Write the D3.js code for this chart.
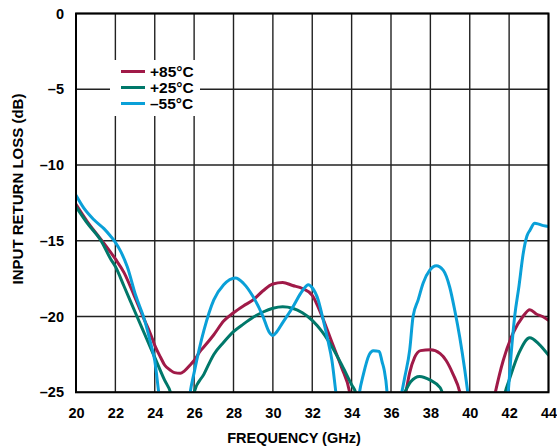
<!DOCTYPE html>
<html>
<head>
<meta charset="utf-8">
<script src="https://cdn.jsdelivr.net/npm/d3@7"></script>
<style>
  html, body { margin: 0; padding: 0; background: #fff; }
  svg { display: block; font-family: "Liberation Sans", Arial, sans-serif; font-weight: bold; }
</style>
</head>
<body>
<svg id="chart" width="557" height="446"></svg>
<script>
// ---- Data (frequency GHz, input return loss dB); null = gap (curve below -25 dB)
const xTicks = [20, 22, 24, 26, 28, 30, 32, 34, 36, 38, 40, 42, 44];
const yTicks = [0, -5, -10, -15, -20, -25];
const seriesNames = ["+85°C", "+25°C", "\u201355°C"];
const seriesColors = ["#A01A48", "#00786A", "#0AA0D8"];

const red85 = [[20,-12.6],[20.58,-13.75],[21.08,-14.6],[21.5,-15.3],[22,-16.2],[22.44,-17.1],[22.95,-18.6],
  [23.5,-20.3],[23.8,-21.2],[24,-21.9],[24.3,-22.7],[24.5,-23.2],[24.8,-23.55],[25,-23.7],[25.3,-23.75],
  [25.5,-23.6],[25.8,-23.2],[26,-22.9],[26.3,-22.3],[26.5,-22.0],[27,-21.2],[27.5,-20.3],[28,-19.75],
  [28.5,-19.3],[29,-18.9],[29.5,-18.3],[30,-17.85],[30.5,-17.75],[31,-17.95],[31.5,-18.15],[32,-18.6],
  [32.5,-20.0],[33,-21.7],[33.5,-23.4],[33.9,-25],[34,-25.8],
  null,
  [36.6,-25.8],[36.75,-25],[36.95,-23.7],[37.2,-22.7],[37.5,-22.25],[38,-22.2],[38.5,-22.45],[38.8,-22.9],
  [39.15,-23.8],[39.5,-25],[39.6,-25.6],
  null,
  [41.2,-25.6],[41.3,-25],[41.7,-22.9],[42.2,-21.1],[42.7,-20.0],[43.05,-19.55],[43.4,-19.85],[43.7,-20.0],[44,-20.25]];

const green25 = [[20,-12.75],[20.58,-13.85],[21.25,-14.95],[21.76,-16.2],[22,-16.7],[22.44,-18.0],[23,-19.7],
  [23.5,-21.2],[24,-22.7],[24.5,-24.2],[24.8,-25],[24.9,-25.5],
  null,
  [25.9,-25.6],[26,-25],[26.5,-23.8],[27,-22.5],[27.5,-21.7],[28,-21.0],[28.5,-20.5],[29,-20.05],[29.5,-19.7],
  [30,-19.45],[30.5,-19.35],[31,-19.45],[31.5,-19.75],[32,-20.25],[32.5,-21.0],[33,-22.0],[33.5,-23.2],
  [34,-24.5],[34.2,-25],[34.3,-25.5],
  null,
  [36.5,-25.6],[36.7,-25],[37,-24.3],[37.45,-23.95],[38,-24.2],[38.5,-24.7],[38.6,-25],[38.7,-25.4],
  null,
  [41.7,-25.6],[41.8,-25],[42,-24.2],[42.5,-22.4],[43.05,-21.4],[43.5,-21.8],[44,-22.55]];

const cyan55 = [[20,-12.0],[20.4,-12.85],[20.9,-13.6],[21.42,-14.2],[21.76,-14.7],[22,-15.1],[22.27,-15.7],
  [22.6,-16.7],[23.03,-18.6],[23.5,-20.3],[23.8,-21.8],[24,-22.9],[24.2,-25],[24.3,-26],
  null,
  [25.7,-26],[25.8,-25],[26,-23.7],[26.5,-20.9],[27,-18.9],[27.5,-17.9],[28.1,-17.45],[28.5,-17.8],
  [29,-18.7],[29.5,-20.0],[29.8,-21.0],[30,-21.25],[30.2,-21.0],[30.5,-20.4],[31,-19.4],[31.5,-18.3],
  [31.8,-17.9],[32,-18.1],[32.3,-18.9],[32.5,-19.9],[32.8,-21.6],[33,-22.9],[33.2,-25],[33.3,-26],
  null,
  [34.3,-26],[34.4,-25],[34.6,-23.8],[34.9,-22.5],[35.1,-22.25],[35.4,-22.3],[35.55,-23.0],[35.65,-23.5],
  [35.8,-25],[35.85,-26],
  null,
  [36.4,-26],[36.55,-25],[36.7,-24],[36.95,-22.2],[37.12,-20.0],[37.38,-18.9],[37.63,-17.8],[37.97,-16.94],
  [38.3,-16.65],[38.65,-16.94],[38.98,-18.05],[39.24,-19.6],[39.49,-21.35],[39.75,-23.55],[39.9,-25],[40,-26],
  null,
  [41.85,-26],[41.95,-25],[42.12,-22.2],[42.28,-20.0],[42.5,-18.0],[42.72,-15.8],[42.9,-14.7],[43.06,-14.3],
  [43.3,-13.85],[43.5,-13.9],[43.74,-14.0],[44,-14.05]];

const seriesData = [red85, green25, cyan55];

// ---- Layout
const svg = d3.select("#chart");
const pL = 76, pR = 548.5, pT = 13.5, pB = 392.3;
const x = d3.scaleLinear().domain([20, 44]).range([pL, pR]);
const y = d3.scaleLinear().domain([-25, 0]).range([pB, pT]);

svg.append("defs").append("clipPath").attr("id", "plotclip")
  .append("rect").attr("x", pL).attr("y", pT).attr("width", pR - pL).attr("height", pB - pT);

// Grid
const grid = svg.append("g");
grid.selectAll("line.v").data(xTicks).join("line").attr("class", "v")
  .attr("x1", d => x(d)).attr("x2", d => x(d)).attr("y1", pT).attr("y2", pB)
  .attr("stroke", "#222").attr("stroke-width", 1.4);
grid.selectAll("line.h").data(yTicks).join("line").attr("class", "h")
  .attr("y1", d => y(d)).attr("y2", d => y(d)).attr("x1", pL).attr("x2", pR)
  .attr("stroke", "#222").attr("stroke-width", 1.4);

// Legend background (covers grid)
svg.append("rect").attr("x", 110).attr("y", 60).attr("width", 90).attr("height", 56).attr("fill", "#fff");

// Curves
const line = d3.line()
  .defined(d => d != null)
  .x(d => x(d[0])).y(d => y(d[1]))
  .curve(d3.curveMonotoneX);
const curves = svg.append("g").attr("clip-path", "url(#plotclip)");
seriesData.forEach((s, i) => {
  curves.append("path").attr("d", line(s)).attr("fill", "none")
    .attr("stroke", seriesColors[i]).attr("stroke-width", 3)
    .attr("stroke-linejoin", "round").attr("stroke-linecap", "round");
});

// Frame
svg.append("rect").attr("x", pL).attr("y", pT).attr("width", pR - pL).attr("height", pB - pT)
  .attr("fill", "none").attr("stroke", "#000").attr("stroke-width", 2);

// Axes labels (ticks)
const xAxis = d3.axisBottom(x).tickValues(xTicks).tickSize(0).tickPadding(15).tickFormat(d3.format("d"));
const gx = svg.append("g").attr("transform", `translate(0,${pB})`).call(xAxis);
gx.select(".domain").remove();
gx.selectAll("text").attr("font-size", 14.5).attr("font-weight", "bold")
  .attr("font-family", "Liberation Sans, Arial, sans-serif").attr("fill", "#000");

const yAxis = d3.axisLeft(y).tickValues(yTicks).tickSize(0).tickPadding(12)
  .tickFormat(d => d === 0 ? "0" : "\u2013" + Math.abs(d));
const gy = svg.append("g").attr("transform", `translate(${pL},0)`).call(yAxis);
gy.select(".domain").remove();
gy.selectAll("text").attr("font-size", 14.5).attr("font-weight", "bold")
  .attr("font-family", "Liberation Sans, Arial, sans-serif").attr("fill", "#000");

// Axis titles
svg.append("text").attr("x", 294).attr("y", 443).attr("text-anchor", "middle")
  .attr("font-size", 14.5).text("FREQUENCY (GHz)");
svg.append("text").attr("transform", "translate(23,189) rotate(-90)").attr("text-anchor", "middle")
  .attr("font-size", 15).text("INPUT RETURN LOSS (dB)");

// Legend
const legend = svg.append("g");
seriesNames.forEach((n, i) => {
  const ly = 71.5 + i * 16;
  legend.append("line").attr("x1", 121).attr("x2", 145).attr("y1", ly).attr("y2", ly)
    .attr("stroke", seriesColors[i]).attr("stroke-width", 3);
  legend.append("text").attr("x", 150).attr("y", ly).attr("dy", "0.36em")
    .attr("font-size", 15.5).text(n);
});
</script>
</body>
</html>
